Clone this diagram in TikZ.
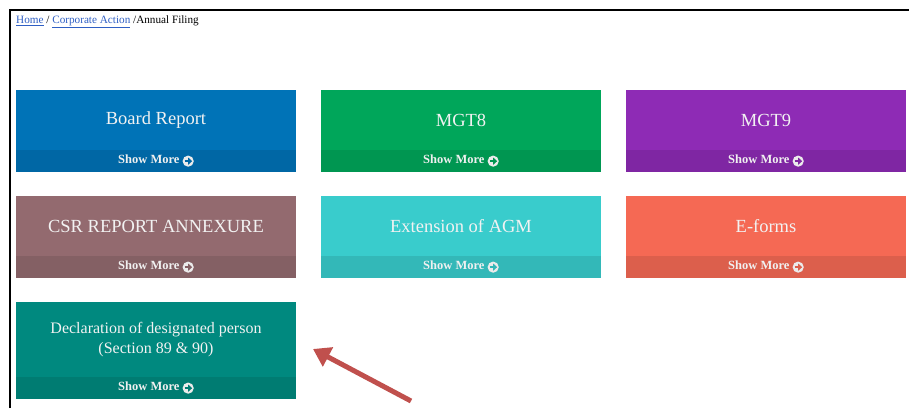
\documentclass[tikz,border=0pt]{standalone}
\usepackage{fontspec}
\setmainfont{Liberation Serif}
\usetikzlibrary{arrows.meta}

\definecolor{boardblue}{HTML}{0073B7}
\definecolor{boardband}{HTML}{0067A5}
\definecolor{mgteight}{HTML}{00A65A}
\definecolor{mgteightband}{HTML}{009651}
\definecolor{mgtnine}{HTML}{8E2BB5}
\definecolor{mgtnineband}{HTML}{7F26A3}
\definecolor{csrbrown}{HTML}{936A6F}
\definecolor{csrband}{HTML}{846064}
\definecolor{agmteal}{HTML}{39CCCC}
\definecolor{agmband}{HTML}{33B8B8}
\definecolor{eformred}{HTML}{F56954}
\definecolor{eformband}{HTML}{DC5F4C}
\definecolor{declgreen}{HTML}{00897F}
\definecolor{declband}{HTML}{007C72}
\definecolor{linkblue}{HTML}{2F5FC4}
\definecolor{arrowred}{HTML}{C0504D}

\newcommand{\moreicon}[1]{\tikz[baseline=-0.4ex]{\fill[white!92!black] (0pt,0pt) circle (5.6pt);
  \draw[#1, line width=2pt, -{Triangle[length=4pt,width=7pt]}] (-3.6pt,0pt) -- (4pt,0pt);}}

\tikzset{
  tile/.style={anchor=north west, minimum width=280pt, inner sep=0pt, outer sep=0pt, align=center,
    text=white!95!black, font=\fontsize{18.5}{21}\selectfont},
  more/.style={anchor=north west, minimum width=280pt, minimum height=21.5pt, inner sep=0pt, outer sep=0pt,
    text=white!88!gray, font=\fontsize{12.5}{14}\selectfont\bfseries},
  crumb/.style={anchor=west, inner sep=0pt, font=\fontsize{11.2}{13}\selectfont},
  pointer/.style={draw=arrowred, line width=5pt, -{Triangle[length=17pt,width=21pt]}},
}

\begin{document}
\begin{tikzpicture}[x=1pt,y=-1pt]
\useasboundingbox (0,0) rectangle (909,408);
\fill[white] (0,0) rectangle (909,408);
\draw[line width=2pt] (9.5,408) -- (9.5,9.5) -- (909,9.5);

\node[crumb] (crumb) at (16,22) {\textcolor{linkblue}{\underline{Home}} / \textcolor{linkblue}{\underline{Corporate Action}} /Annual Filing};

% first row
\node[tile, fill=boardblue, minimum height=60.5pt] (board) at (16,90) {Board Report};
\node[more, fill=boardband] (boardmore) at ([yshift=0.5pt]board.south west) {Show More \moreicon{boardband}};
\node[tile, fill=mgteight, minimum height=60.5pt] (mgt8) at (321,90) {MGT8};
\node[more, fill=mgteightband] (mgt8more) at ([yshift=0.5pt]mgt8.south west) {Show More \moreicon{mgteightband}};
\node[tile, fill=mgtnine, minimum height=60.5pt] (mgt9) at (626,90) {MGT9};
\node[more, fill=mgtnineband] (mgt9more) at ([yshift=0.5pt]mgt9.south west) {Show More \moreicon{mgtnineband}};

% second row
\node[tile, fill=csrbrown, minimum height=60.5pt] (csr) at (16,196) {CSR REPORT ANNEXURE};
\node[more, fill=csrband] (csrmore) at ([yshift=0.5pt]csr.south west) {Show More \moreicon{csrband}};
\node[tile, fill=agmteal, minimum height=60.5pt] (agm) at (321,196) {Extension of AGM};
\node[more, fill=agmband] (agmmore) at ([yshift=0.5pt]agm.south west) {Show More \moreicon{agmband}};
\node[tile, fill=eformred, minimum height=60.5pt] (eform) at (626,196) {E-forms};
\node[more, fill=eformband] (eformmore) at ([yshift=0.5pt]eform.south west) {Show More \moreicon{eformband}};

% third row
\node[tile, fill=declgreen, minimum height=75.5pt, font=\fontsize{16}{20}\selectfont] (decl) at (16,302) {Declaration of designated person\\(Section 89 \& 90)};
\node[more, fill=declband] (declmore) at ([yshift=0.5pt]decl.south west) {Show More \moreicon{declband}};

% pointer to the last tile
\coordinate (tail) at (411,401);
\coordinate (tip) at (313,349);
\draw[pointer] (tail) -- (tip);
\end{tikzpicture}
\end{document}
